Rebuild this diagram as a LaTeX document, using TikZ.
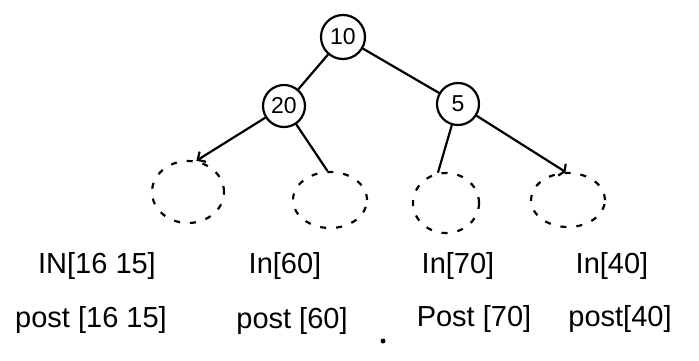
\documentclass[tikz,border=0pt]{standalone}
\usepackage{fontspec}
\setmainfont{Liberation Sans}
\usetikzlibrary{arrows.meta,shapes.geometric}
\begin{document}
\begin{tikzpicture}[x=1pt,y=-1pt,
  treenode/.style={draw,circle,line width=2.2pt,minimum size=44pt,inner sep=0pt,font=\fontsize{23}{25}\selectfont},
  emptyleaf/.style={draw,ellipse,dashed,dash pattern=on 6pt off 10pt,line width=2.2pt,inner sep=0pt},
  edge/.style={line width=2.2pt},
  lbl/.style={font=\fontsize{29}{32}\selectfont,inner sep=0pt}]
\useasboundingbox (0,0) rectangle (699,361);
% tree nodes
\node[treenode] (n10) at (343,37) {10};
\node[treenode,minimum size=42pt] (n20) at (284,106) {20};
\node[treenode,minimum size=42pt] (n5) at (458,104) {5};
% empty subtrees
\node[emptyleaf,minimum width=72pt,minimum height=62pt] (l1) at (188,192) {};
\node[emptyleaf,minimum width=74pt,minimum height=56pt] (l2) at (330,200) {};
\node[emptyleaf,minimum width=66pt,minimum height=60pt] (l3) at (446,203) {};
\node[emptyleaf,minimum width=74pt,minimum height=54pt] (l4) at (568,200) {};
% edges
\draw[edge] (n10) -- (n20);
\draw[edge] (n10) -- (n5);
\draw[edge,-{Straight Barb[length=6pt,width=12pt]}] (n20) -- (l1.75);
\draw[edge] (n20) -- (l2.95);
\draw[edge] (n5) -- (l3.105);
\draw[edge,-{Straight Barb[length=3pt,width=14pt]}] (n5) -- (l4.95);
% traversal labels
\node[lbl] (in1) at (97,266) {IN[16 15]};
\node[lbl] (in2) at (285,266) {In[60]};
\node[lbl] (in3) at (458,266) {In[70]};
\node[lbl] (in4) at (612,266) {In[40]};
\node[lbl] (po1) at (91,320) {post [16 15]};
\node[lbl] (po2) at (292,321) {post [60]};
\node[lbl] (po3) at (474,319) {Post [70]};
\node[lbl] (po4) at (620,319) {post[40]};
\fill (383,341) circle (2.5pt);
\end{tikzpicture}
\end{document}
